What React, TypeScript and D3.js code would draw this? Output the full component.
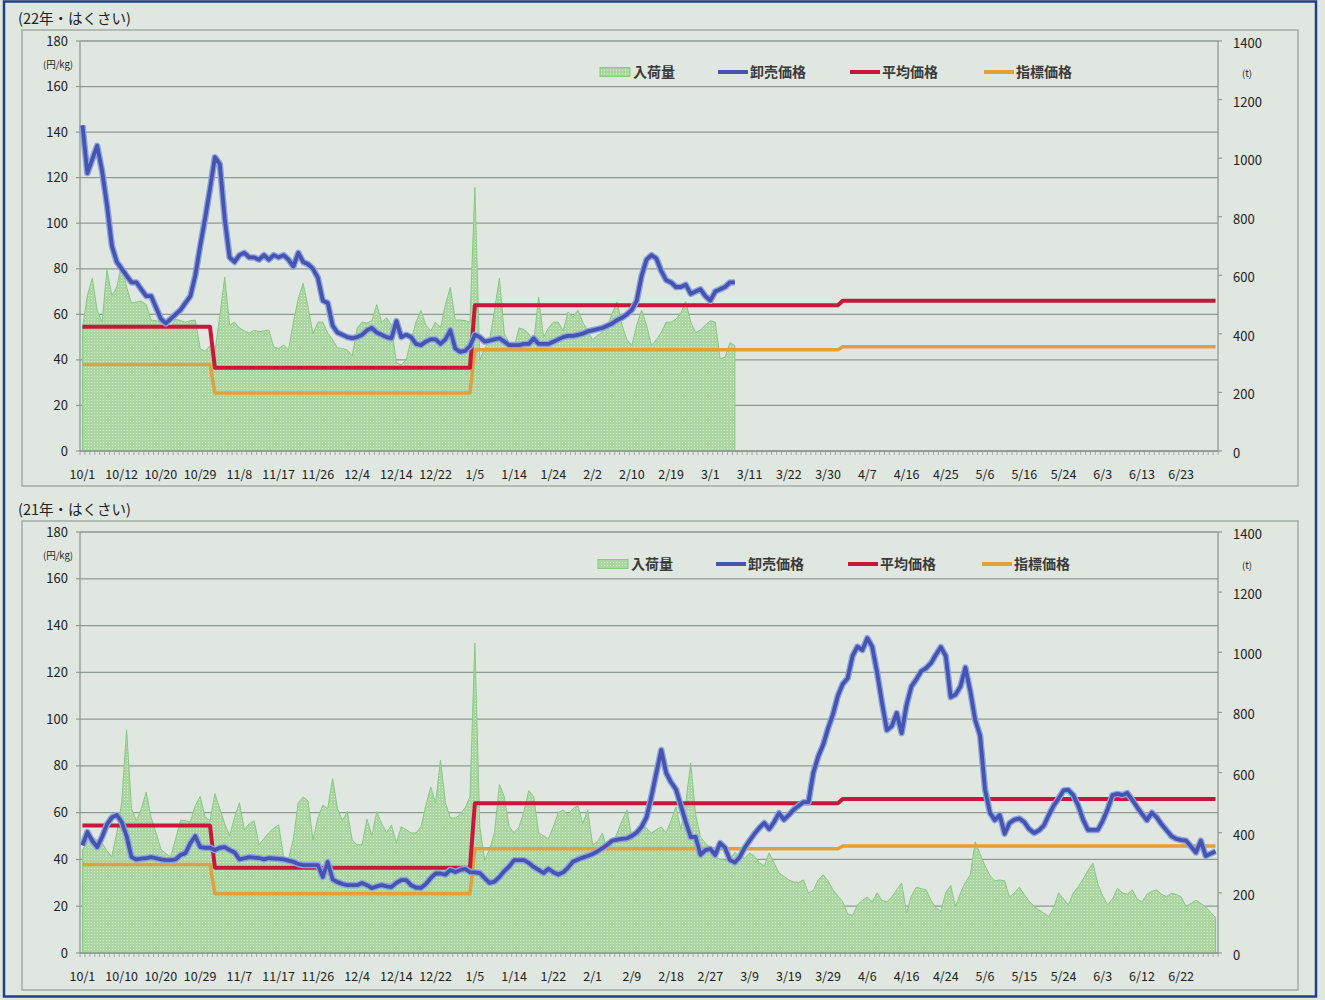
import React from 'react';
import * as d3 from 'd3';

const N = 232;

const labels22 = ['10/1','10/12','10/20','10/29','11/8','11/17','11/26','12/4','12/14','12/22','1/5','1/14','1/24','2/2','2/10','2/19','3/1','3/11','3/22','3/30','4/7','4/16','4/25','5/6','5/16','5/24','6/3','6/13','6/23'];
const labels21 = ['10/1','10/10','10/20','10/29','11/7','11/17','11/26','12/4','12/14','12/22','1/5','1/14','1/22','2/1','2/9','2/18','2/27','3/9','3/19','3/29','4/6','4/16','4/24','5/6','5/15','5/24','6/3','6/12','6/22'];

const wholesale22 = [
  143,122,128,134,123,108,90,83,80,77,
  74,74,71,68,68,63,58,56,58,60,
  62,65,68,77,90,102,115,129,126,102,
  85,83,86,87,85,85,84,86,84,86,
  85,86,84,81,87,83,82,80,76,66,
  65,55,52,51,50,49.6,50,51,53,54,
  52,51,50,49.5,57,50,51,50,47,46.5,
  48,49,49,47,49,53,45,43.5,44,46,
  51,50,48,48.5,49,49.5,48,46.5,46.5,46.5,
  47,47,49.5,47,47,47,48,49,50,50.5,
  50.5,51,51.5,52.5,53,53.5,54,55,56,57.5,
  58.5,60,62,66,77,84,86,84.5,79,75,
  74,72,72,73,69,70,71,68,66,70,
  71,72,74,74
];
const volume22 = [
  420,530,590,480,440,620,530,560,640,560,
  505,509,512,500,447,445,440,430,423,450,
  445,440,445,447,350,340,360,340,460,594,
  430,440,420,410,403,412,408,410,413,355,
  350,362,345,440,520,573,490,400,440,440,
  403,380,352,350,345,325,420,440,437,445,
  500,440,455,430,300,295,311,380,440,480,
  430,410,440,420,500,560,447,447,445,440,
  900,310,350,379,480,590,400,370,355,420,
  415,400,369,526,389,420,440,440,410,475,
  457,481,440,410,380,395,405,423,470,509,
  430,380,360,430,481,430,360,380,405,440,
  440,450,471,510,440,405,413,430,445,440,
  315,320,370,360
];
const wholesale21 = [
  46,51.7,48,45.3,49.6,55,58,59,56,50,
  41,40,40.3,40.6,41,40.5,40,39.7,39.7,40,
  41.9,42.7,47,50,45.3,45,45,44,45,45.3,
  44,43,40,40.5,41,40.8,40.6,40,40.6,40.4,
  40.2,40,39.5,39,38,37.6,37.6,37.6,37.6,32.5,
  38.9,31.5,30.3,29.5,29,29,29,29.9,29,27.8,
  28.5,29,28.5,28.2,30,31.2,31.2,29,28,27.8,
  29.5,32,34,34,33.5,35.5,34.6,35.5,36,34.6,
  34.5,34.2,32,30,30.5,32.5,35,37,39.7,39.7,
  39.7,38.5,36.8,35.5,34.2,36,34.5,33.5,34.5,36.5,
  39,40,40.8,41.5,42.3,43.5,44.8,46.3,48,48.5,
  48.8,49,50,51.5,54,58,67,77,86.8,77,
  73,70,63,56,49.6,49.6,42,44,44.5,41.9,
  47,45,39.7,38.7,41,45,48,51,53.5,55.6,
  53,56,59.8,57,59,61.3,63,64.5,64.5,77,
  84,89,96,102,110,115,117.5,127,131,129.5,
  134.6,131,120,107,95.3,97,102.6,94,106,114,
  117,120.5,121.8,124,127.5,130.8,127,109.4,110.5,114,
  122,112,99.6,93,70,60,56.8,59,51,55.6,
  57,57.5,56,53,51.3,52.4,54.5,59,63,66,
  69.5,69.7,67.5,63,57,52.6,52.6,52.6,56.5,61.5,
  67.5,68,67.5,68.4,65.5,62.4,59.5,56.8,60,58,
  55,52.5,50,48.8,48.3,48,45.5,43,48,41.5,
  42.5,43.5
];
const volume21 = [
  343,370,386,375,366,340,320,400,500,742,
  480,440,480,535,450,400,345,330,320,380,
  442,440,436,490,520,452,440,530,480,430,
  390,450,500,410,430,440,360,380,400,415,
  426,319,312,380,500,519,505,376,450,492,
  480,580,480,440,470,375,360,360,445,390,
  470,430,400,425,366,420,410,399,399,420,
  490,552,499,642,500,449,449,460,482,519,
  1031,420,309,345,400,560,520,420,400,419,
  470,540,520,399,390,380,420,466,476,460,
  480,490,430,476,360,370,399,340,360,399,
  440,476,385,400,432,415,399,410,419,400,
  440,486,410,500,632,460,386,365,350,319,
  312,309,309,335,320,315,333,322,300,290,
  333,300,266,255,243,236,235,243,200,208,
  243,260,240,210,190,170,130,125,160,175,
  186,170,200,175,170,186,210,233,133,190,
  219,214,210,175,150,140,200,225,153,200,
  235,260,370,330,290,258,240,243,240,186,
  200,219,195,172,155,143,132,122,150,200,
  180,160,200,220,245,275,299,230,190,160,
  180,215,200,195,210,180,170,195,205,210,
  195,188,198,195,186,155,165,176,165,153,
  135,118
];

const stepStarts = [0, 27, 80, 155];
const avgPrice22 = [54.5, 36.5, 64, 66];
const indexPrice22 = [38, 25.5, 44.5, 45.8];
const avgPrice21 = [54.5, 36.5, 64, 65.8];
const indexPrice21 = [37.8, 25.3, 44.6, 45.7];

const leftTicks = [0, 20, 40, 60, 80, 100, 120, 140, 160, 180];
const rightTicks = [0, 200, 400, 600, 800, 1000, 1200, 1400];
const legendNames = ['入荷量', '卸売価格', '平均価格', '指標価格'];

const FONT = '"Noto Sans CJK JP", "Noto Sans", sans-serif';
const COLORS = { blue: '#4654b0', blueGlow: '#8ea4e2', red: '#c8173a', orange: '#e2a03a', green: '#86c982', grid: '#8f9a93', text: '#222' };

function expandSteps(values: number[]): number[] {
  return d3.range(N).map((i) => values[d3.bisectRight(stepStarts, i) - 1]);
}

type Cfg = { boxY: number; boxH: number; top: number; bottom: number; titleY: number; legendY: number; legendDx: number; labelY: number; title: string };

function Panel({ cfg, wholesale, volume, avg, idx, labels }: { cfg: Cfg; wholesale: number[]; volume: number[]; avg: number[]; idx: number[]; labels: string[] }) {
  const left = 80, right = 1218;
  const x = d3.scaleBand<number>().domain(d3.range(N)).range([left, right]);
  const bw = x.bandwidth();
  const cx = (i: number) => (x(i) as number) + bw / 2;
  const yL = d3.scaleLinear().domain([0, 180]).range([cfg.bottom, cfg.top]);
  const yR = d3.scaleLinear().domain([0, 1400]).range([cfg.bottom, cfg.top]);
  const area = d3.area<number>().x((_, i) => cx(i)).y0(yR(0)).y1((d) => yR(d));
  const line = d3.line<number>().x((_, i) => cx(i)).y((d) => yL(d));
  const avgSeries = expandSteps(avg);
  const idxSeries = expandSteps(idx);
  const lg = cfg.legendY;
  const dx = cfg.legendDx;
  return (
    <g>
      <rect x={22} y={cfg.boxY} width={1276} height={cfg.boxH} fill="none" stroke="#a3aca6" strokeWidth={1.5} />
      <text x={18} y={cfg.titleY} fontFamily={FONT} fontSize={14.5} fill={COLORS.text}>{cfg.title}</text>
      {leftTicks.map((t) => (
        <g key={'g' + t}>
          <line x1={left} x2={right} y1={yL(t)} y2={yL(t)} stroke={COLORS.grid} strokeWidth={1.3} />
          <line x1={left - 4} x2={left} y1={yL(t)} y2={yL(t)} stroke={COLORS.grid} strokeWidth={1.2} />
          <text x={68} y={yL(t) + 4.5} textAnchor="end" fontFamily={FONT} fontSize={13} fill={COLORS.text}>{t}</text>
        </g>
      ))}
      <text x={58} y={yL(170) + 4} textAnchor="middle" fontFamily={FONT} fontSize={9.5} fill={COLORS.text}>(円/kg)</text>
      {rightTicks.map((t) => (
        <g key={'r' + t}>
          <line x1={right} x2={right + 4} y1={yR(t)} y2={yR(t)} stroke={COLORS.grid} strokeWidth={1.2} />
          <text x={1233} y={yR(t) + 7} fontFamily={FONT} fontSize={13} fill={COLORS.text}>{t}</text>
        </g>
      ))}
      <text x={1247} y={yR(1300) + 7} textAnchor="middle" fontFamily={FONT} fontSize={9.5} fill={COLORS.text}>(t)</text>
      <path d={area(volume) || ''} fill="url(#dots)" stroke={COLORS.green} strokeWidth={1} />
      <line x1={left} x2={left} y1={cfg.top} y2={cfg.bottom} stroke={COLORS.grid} strokeWidth={1.3} />
      <line x1={right} x2={right} y1={cfg.top} y2={cfg.bottom} stroke={COLORS.grid} strokeWidth={1.3} />
      <line x1={left} x2={right} y1={cfg.bottom} y2={cfg.bottom} stroke={COLORS.grid} strokeWidth={1.3} />
      {d3.range(N + 1).map((k) => (
        <line key={'t' + k} x1={left + k * bw} x2={left + k * bw} y1={cfg.bottom} y2={cfg.bottom + 4} stroke={COLORS.grid} strokeWidth={0.8} />
      ))}
      {labels.map((l, j) => (
        <text key={'l' + j} x={cx(j * 8)} y={cfg.labelY} textAnchor="middle" fontFamily={FONT} fontSize={12.5} fill={COLORS.text}>{l}</text>
      ))}
      <path d={line(idxSeries) || ''} fill="none" stroke={COLORS.orange} strokeWidth={3.5} strokeLinejoin="round" />
      <path d={line(avgSeries) || ''} fill="none" stroke={COLORS.red} strokeWidth={4} strokeLinejoin="round" />
      <path d={line(wholesale) || ''} fill="none" stroke={COLORS.blueGlow} strokeWidth={6.5} strokeLinejoin="round" />
      <path d={line(wholesale) || ''} fill="none" stroke={COLORS.blue} strokeWidth={3.8} strokeLinejoin="round" />
      <g fontFamily={FONT} fontSize={14} fontWeight={700} fill="#3a3a3a">
        <rect x={600 + dx} y={lg - 4.5} width={30} height={9} fill="url(#dots)" stroke={COLORS.green} strokeWidth={1} />
        <text x={633 + dx} y={lg + 5}>{legendNames[0]}</text>
        <line x1={718 + dx} x2={748 + dx} y1={lg} y2={lg} stroke={COLORS.blue} strokeWidth={4} />
        <text x={750 + dx} y={lg + 5}>{legendNames[1]}</text>
        <line x1={850 + dx} x2={880 + dx} y1={lg} y2={lg} stroke={COLORS.red} strokeWidth={4} />
        <text x={882 + dx} y={lg + 5}>{legendNames[2]}</text>
        <line x1={984 + dx} x2={1014 + dx} y1={lg} y2={lg} stroke={COLORS.orange} strokeWidth={4} />
        <text x={1016 + dx} y={lg + 5}>{legendNames[3]}</text>
      </g>
    </g>
  );
}

export default function App() {
  const top: Cfg = { boxY: 30, boxH: 456, top: 41, bottom: 451, titleY: 24, legendY: 72, legendDx: 0, labelY: 479, title: '(22年・はくさい)' };
  const bot: Cfg = { boxY: 521, boxH: 469, top: 532, bottom: 953, titleY: 515, legendY: 564, legendDx: -2, labelY: 981, title: '(21年・はくさい)' };
  return (
    <svg width={1325} height={1000} style={{ position: 'absolute', left: 0, top: 0 }}>
      <defs>
        <pattern id="dots" width={3} height={3} patternUnits="userSpaceOnUse">
          <rect width={3} height={3} fill="#abd6a1" />
          <circle cx={1.5} cy={1.5} r={0.6} fill="#e2f1dd" />
        </pattern>
      </defs>
      <rect x={0} y={0} width={1325} height={1000} fill="#dfe7e0" />
      <rect x={4} y={1.5} width={1312} height={995} fill="none" stroke="#213f86" strokeWidth={2.5} />
      <Panel cfg={top} wholesale={wholesale22} volume={volume22} avg={avgPrice22} idx={indexPrice22} labels={labels22} />
      <Panel cfg={bot} wholesale={wholesale21} volume={volume21} avg={avgPrice21} idx={indexPrice21} labels={labels21} />
    </svg>
  );
}
